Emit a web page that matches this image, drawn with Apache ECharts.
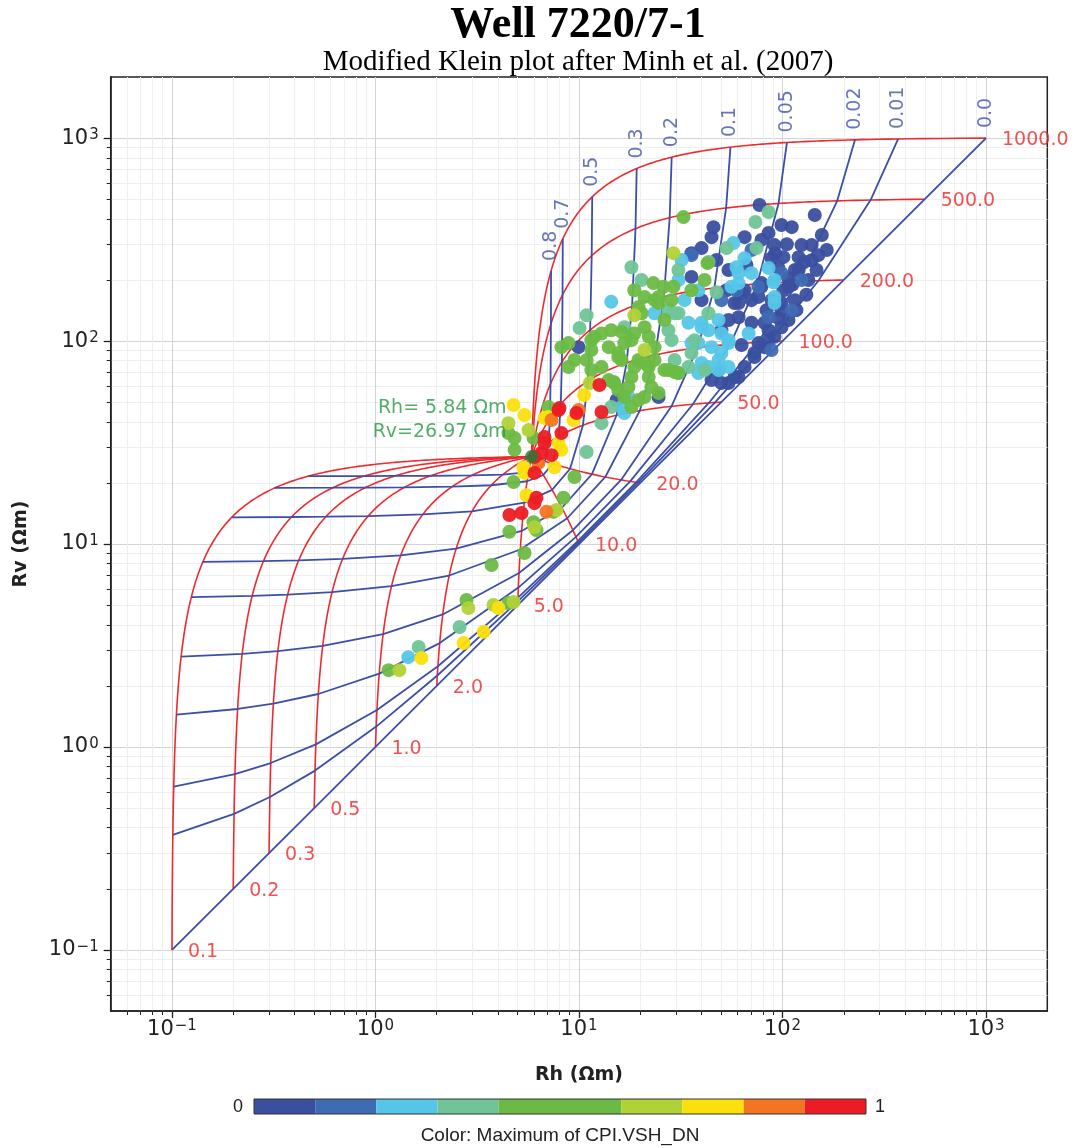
<!DOCTYPE html>
<html>
<head>
<meta charset="utf-8">
<title>Well 7220/7-1 - Modified Klein plot</title>
<script src="https://cdn.jsdelivr.net/npm/echarts@6/dist/echarts.min.js"></script>
<style>
html, body { margin: 0; padding: 0; background: #fff; }
#main { width: 1078px; height: 1148px; }
</style>
</head>
<body>
<div id="main"></div>
<script>
// shale point (anisotropic shale) and the model grid parameters
const rshH = 5.84;
const rshV = 26.97;
const vshLines = [0, 0.01, 0.02, 0.05, 0.1, 0.2, 0.3, 0.5, 0.7, 0.8];
const rsdLines = [0.1, 0.2, 0.3, 0.5, 1, 2, 5, 10, 20, 50, 100, 200, 500, 1000];
const decadeTicks = [0.1, 1, 10, 100, 1000];
const axisRange = [0.05, 2000];

// colour bar (CPI.VSH_DN, 10 classes)
const cbColors = ['#3a4f9f', '#3e6cb4', '#55c6e8', '#70c497', '#6cba45',
  '#6cba45', '#b0d236', '#fbe00c', '#f47521', '#ec1c24'];

// measured points [Rh, Rv] grouped by colour class
const ptsDarkBlue = [
  [77.1, 468], [144, 418], [111, 364], [45.8, 364], [44.8, 325], [65.1, 325], [85.4, 341], [156, 333], [139, 297], [91.3, 297],
  [101, 259], [120, 259], [150, 265], [128, 245], [35.7, 271], [40.0, 287], [95.5, 229], [120, 224], [54.3, 224], [78.8, 193],
  [107, 204], [35.7, 207], [65.1, 178], [76.2, 165], [101, 178], [40.0, 159], [58.1, 154], [98.8, 142], [60.8, 131], [70.4, 123],
  [81.6, 123], [107, 127], [85.4, 113], [76.2, 97.7], [85.4, 101], [72.8, 87.3], [65.1, 74.5], [60.8, 66.5], [54.3, 62.1], [115, 224],
  [134, 200], [115, 159], [98.8, 117], [91.3, 105], [81.6, 93.3], [72.8, 83.4], [58.1, 66.5], [50.1, 62.1], [44.8, 64.2], [48.5, 71.9],
  [54.3, 127], [60.8, 154], [15.3, 51.2], [24.6, 53.0], [9.95, 93.3], [62.9, 172], [78.8, 185], [107, 185], [98.8, 154], [88.3, 256],
  [124, 297], [165, 281], [147, 224], [131, 169], [117, 142], [83.5, 142], [88.3, 159], [53.1, 178], [47.4, 251], [78.8, 315],
  [98.8, 373], [66.5, 237], [70.4, 159], [50.1, 113], [62.9, 95.5], [105, 300], [92, 270], [139, 250], [112, 190], [95, 130]
];
const ptsBlue = [
  [35.7, 265], [76.2, 185], [98.8, 216], [85.4, 131], [111, 142], [70.4, 281], [59.4, 178], [88.3, 90.3], [50.1, 159], [124, 200]
];
const ptsCyan = [
  [57.4, 304], [65.1, 256], [60.8, 216], [70.4, 216], [85.4, 229], [91.3, 200], [56.1, 185], [91.3, 165], [91.3, 154], [31.9, 251],
  [30.8, 200], [38.6, 178], [40.0, 123], [43.3, 113], [48.5, 127], [50.1, 109], [44.8, 93.3], [54.3, 97.7], [68.1, 109], [35.7, 97.7],
  [40.0, 77.9], [48.5, 80.6], [48.5, 71.9], [14.4, 156], [33.0, 159], [23.5, 137], [34.5, 123], [30.8, 69.5], [59.4, 231], [90.3, 195],
  [60.8, 193], [50.1, 87.3], [54.3, 74.5], [43.3, 74.5], [38.6, 97.7], [54.3, 101], [38.6, 69.5], [40.0, 117], [16.7, 44.2], [16.2, 47.3],
  [17.5, 53.0], [1.45, 2.77]
];
const ptsTeal = [
  [85.4, 432], [73.6, 386], [53.1, 287], [74.5, 287], [18.1, 231], [20.3, 200], [30.8, 224], [43.3, 245], [47.4, 174], [27.5, 142],
  [30.8, 137], [16.7, 117], [27.5, 113], [28.5, 101], [35.7, 87.3], [41.4, 71.9], [43.3, 137], [34.5, 74.5], [10.9, 134], [10.07, 116],
  [29.5, 137], [29.5, 80.6], [37.0, 101], [14.4, 47.3], [12.9, 39.4], [10.9, 28.4], [2.59, 3.90], [1.63, 3.11]
];
const ptsGreen = [
  [32.6, 408], [41.4, 200], [23.2, 193], [26.0, 185], [18.7, 178], [29.1, 185], [35.7, 178], [21.0, 165], [24.6, 165], [28.5, 159],
  [19.6, 147], [24.6, 154], [21.0, 117], [14.4, 113], [18.1, 101], [23.5, 93.3], [15.6, 83.4], [19.6, 80.6], [23.5, 80.6], [27.5, 71.9],
  [22.0, 66.5], [14.0, 64.2], [18.1, 66.5], [42.8, 242], [11.5, 101], [12.9, 109], [10.9, 80.6], [12.9, 74.5], [15.6, 87.3], [14.9, 62.1],
  [17.5, 59.3], [16.7, 53.0], [19.6, 51.2], [22.7, 59.3], [24.6, 55.5], [18.1, 47.3], [22.0, 74.5], [18.7, 74.5], [26.3, 71.9], [30.8, 69.5],
  [16.2, 111], [8.88, 97.7], [8.20, 93.3], [11.5, 90.3], [14.0, 93.3], [20.3, 137], [26.3, 127], [18.7, 109], [22.0, 105], [16.7, 97.7],
  [16.2, 80.6], [21.0, 77.9], [29.5, 70.3], [11.5, 71.9], [9.50, 80.6], [8.88, 74.5], [14.8, 62.8], [15.6, 57.4], [21.0, 53.0], [7.08, 47.3],
  [11.9, 105], [23.5, 159], [4.82, 33.3], [4.50, 35.2], [5.98, 33.3], [4.82, 29.1], [4.77, 20.2], [7.50, 14.4], [8.39, 16.9], [4.55, 11.5],
  [5.98, 12.8], [6.18, 11.7], [5.40, 9.03], [9.50, 21.4], [3.72, 7.88], [2.80, 5.30], [4.50, 5.12], [1.16, 2.39]
];
const ptsYellowGreen = [
  [29.1, 271], [18.7, 134], [21.0, 90.3], [11.3, 62.1], [4.50, 39.4], [5.65, 36.4], [6.04, 12.1], [7.75, 14.7], [2.86, 4.84], [3.80, 5.01],
  [4.77, 5.18], [1.31, 2.39]
];
const ptsYellow = [
  [4.77, 48.4], [5.40, 43.2], [5.34, 23.9], [5.40, 22.4], [6.77, 41.8], [9.40, 40.8], [7.93, 31.4], [7.58, 23.9], [5.52, 17.4], [10.6, 54.2],
  [7.08, 42.2], [4.02, 4.84], [3.40, 3.69], [2.71, 3.25], [1.68, 2.74], [8.20, 29.1]
];
const ptsOrange = [[6.32, 25.1], [7.33, 40.8], [9.95, 45.7], [6.92, 14.4]];
const ptsRed = [
  [6.04, 26.8], [6.04, 22.4], [7.93, 45.7], [9.72, 44.2], [6.77, 33.7], [6.77, 31.4], [8.20, 35.2], [7.33, 27.4], [6.18, 16.9], [6.04, 15.9],
  [4.55, 13.9], [5.22, 14.2], [12.6, 60.7], [12.9, 44.7], [8.02, 46.8], [6.54, 28.1]
];
// class value of CPI.VSH_DN used for each group
const pointGroups = [
  [ptsDarkBlue, 0.05], [ptsBlue, 0.15], [ptsCyan, 0.25], [ptsTeal, 0.35], [ptsGreen, 0.5],
  [ptsYellowGreen, 0.65], [ptsYellow, 0.75], [ptsOrange, 0.85], [ptsRed, 0.95]
];

const lg = Math.log10;
const RED = '#ef2a2e';
const BLUE = '#3c4fa6';

// laminated sand / anisotropic shale model
function modelRh(vsh, rsd) { return 1 / (vsh / rshH + (1 - vsh) / rsd); }
function modelRv(vsh, rsd) { return vsh * rshV + (1 - vsh) * rsd; }

const xMin = lg(axisRange[0]);
const xMax = lg(axisRange[1]);
const majorVals = decadeTicks.map(lg);
const minorVals = [];
for (let e = -2; e <= 3; e++) {
  for (let k = 2; k <= 9; k++) {
    const v = lg(k * Math.pow(10, e));
    if (v > xMin && v < xMax) minorVals.push(v);
  }
}

function powLabel(v) {
  const e = Math.round(v);
  return '{b|10}{s|' + (e < 0 ? '\u2212' + (-e) : e) + '}';
}
const powRich = {
  b: { fontSize: 21, fontFamily: 'DejaVu Sans', color: '#222', lineHeight: 21, padding: [7, 0, 0, 0], verticalAlign: 'bottom' },
  s: { fontSize: 15, fontFamily: 'DejaVu Sans', color: '#222', lineHeight: 15, padding: [0, 0, 0, 1], verticalAlign: 'top' }
};

function majorAxis(isX) {
  return {
    type: 'value', min: xMin, max: xMax,
    position: isX ? 'bottom' : 'left',
    axisLine: { onZero: false, lineStyle: { color: '#222', width: 1.5 } },
    axisTick: { customValues: majorVals, length: 7, lineStyle: { color: '#222', width: 1.3 } },
    axisLabel: { customValues: majorVals, formatter: powLabel, rich: powRich, margin: isX ? 8 : 12 },
    splitLine: { show: true, lineStyle: { color: '#d3d3d3', width: 1 } },
    name: isX ? 'Rh (Ωm)' : 'Rv (Ωm)',
    nameLocation: 'middle',
    nameGap: isX ? 55 : 80,
    nameTextStyle: { fontFamily: 'DejaVu Sans', fontWeight: 'bold', fontSize: 19, color: '#222' }
  };
}
function minorAxis(isX) {
  return {
    type: 'value', min: xMin, max: xMax,
    position: isX ? 'bottom' : 'left',
    axisLine: { show: false, onZero: false },
    axisTick: { customValues: minorVals, length: 4, lineStyle: { color: '#222', width: 1 } },
    axisLabel: { show: false },
    splitLine: { show: true, lineStyle: { color: '#efefef', width: 1 } }
  };
}

let series = [];

// constant sand resistivity curves (red)
rsdLines.forEach((rsd) => {
  const pts = [];
  for (let i = 0; i <= 500; i++) {
    const v = i / 500;
    pts.push([lg(modelRh(v, rsd)), lg(modelRv(v, rsd))]);
  }
  series.push({
    type: 'line', data: pts, showSymbol: false, silent: true, z: 2,
    lineStyle: { color: RED, width: 1.6 }
  });
});

// constant shale volume lines (blue), through the sand resistivity nodes
vshLines.forEach((vsh) => {
  series.push({
    type: 'line', showSymbol: false, silent: true, z: 3,
    data: rsdLines.map(r => [lg(modelRh(vsh, r)), lg(modelRv(vsh, r))]),
    lineStyle: { color: BLUE, width: 1.8 }
  });
});

// labels of red curves at the clean sand end
series.push({
  type: 'scatter', symbolSize: 0, silent: true, z: 6,
  data: rsdLines.map(r => [lg(r), lg(r), r]),
  label: {
    show: true, position: 'right', distance: 16, offset: [0, 2],
    formatter: p => p.value[2].toFixed(1),
    color: '#ee2626', fontSize: 19, fontFamily: 'DejaVu Sans'
  }
});
// labels of blue lines at Rsd = 1000
series.push({
  type: 'scatter', symbolSize: 0, silent: true, z: 6,
  data: vshLines.map(v => [lg(modelRh(v, 1000)), lg(modelRv(v, 1000)), v]),
  label: {
    show: true, position: 'top', distance: 10, rotate: 90, align: 'left', verticalAlign: 'middle',
    formatter: p => (p.value[2] === 0 ? '0.0' : String(p.value[2])),
    color: '#4153a6', fontSize: 19, fontFamily: 'DejaVu Sans'
  }
});

// measured data, coloured through the visualMap
const scatterData = [];
pointGroups.forEach(([pts, vsh]) => {
  pts.forEach(p => scatterData.push([lg(p[0]), lg(p[1]), vsh]));
});
const dataIndex = series.length;
series.push({
  type: 'scatter', data: scatterData, symbolSize: 14, z: 5,
  itemStyle: { opacity: 0.95 }
});

// shale point
series.push({
  type: 'scatter', z: 7, symbolSize: 13,
  data: [[lg(rshH), lg(rshV)]],
  itemStyle: { color: '#1f7f3a' },
  label: {
    show: true, position: 'inside', offset: [-25, -36], align: 'right', verticalAlign: 'middle',
    formatter: 'Rh= ' + rshH.toFixed(2) + ' Ωm\nRv=' + rshV.toFixed(2) + ' Ωm',
    color: '#279844', fontSize: 19, lineHeight: 24, fontFamily: 'DejaVu Sans'
  }
});

series = series.map(s => Object.assign({ animation: false }, s));

const myChart = echarts.init(document.getElementById('main'));
const option = {
  backgroundColor: '#fff',
  textStyle: { fontFamily: 'DejaVu Sans' },
  grid: {
    left: 110.7, right: 30.7, top: 77, bottom: 137,
    show: true, borderColor: '#222', borderWidth: 1.5, backgroundColor: 'transparent'
  },
  xAxis: [majorAxis(true), minorAxis(true)],
  yAxis: [majorAxis(false), minorAxis(false)],
  visualMap: {
    type: 'piecewise',
    seriesIndex: dataIndex,
    dimension: 2,
    orient: 'horizontal',
    left: 254, top: 1099,
    padding: 0,
    itemWidth: 61.2, itemHeight: 15, itemGap: 0,
    itemSymbol: 'rect',
    showLabel: false,
    selectedMode: false,
    hoverLink: false,
    pieces: cbColors.map((c, i) => (i === 9
      ? { gte: i / 10, lte: 1, color: c }
      : { gte: i / 10, lt: (i + 1) / 10, color: c }))
  },
  graphic: [
    { type: 'text', x: 578, y: 26, style: { text: 'Well 7220/7-1', font: 'bold 44px "Liberation Serif"', fill: '#000', align: 'center', verticalAlign: 'middle' } },
    { type: 'text', x: 578, y: 62, style: { text: 'Modified Klein plot after Minh et al. (2007)', font: '29px "Liberation Serif"', fill: '#000', align: 'center', verticalAlign: 'middle' } },
    { type: 'rect', shape: { x: 254, y: 1099, width: 612, height: 15 }, style: { fill: 'none', stroke: '#333', lineWidth: 1 }, z: 100 },
    { type: 'text', x: 238, y: 1107, style: { text: '0', font: '18px "Liberation Sans"', fill: '#222', align: 'center', verticalAlign: 'middle' } },
    { type: 'text', x: 880, y: 1107, style: { text: '1', font: '18px "Liberation Sans"', fill: '#222', align: 'center', verticalAlign: 'middle' } },
    { type: 'text', x: 560, y: 1136, style: { text: 'Color: Maximum of CPI.VSH_DN', font: '19px "Liberation Sans"', fill: '#222', align: 'center', verticalAlign: 'middle' } }
  ],
  series: series
};
myChart.setOption(option);
</script>
</body>
</html>
